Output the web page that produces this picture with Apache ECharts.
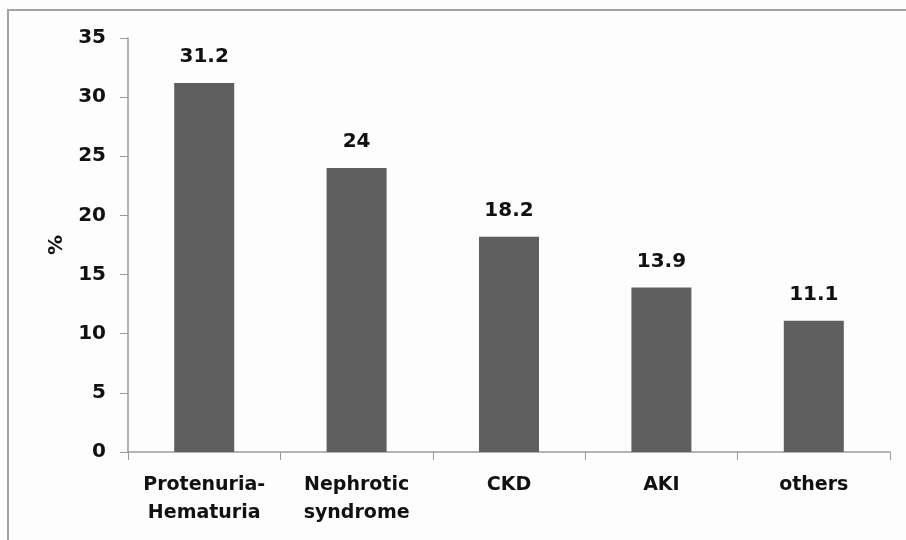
<!DOCTYPE html>
<html><head><meta charset="utf-8">
<script src="https://cdn.jsdelivr.net/npm/echarts@6/dist/echarts.min.js"></script>
<style>html,body{margin:0;padding:0;background:#fdfdfd;overflow:hidden}#c{width:906px;height:540px}
#frame{position:absolute;left:7px;top:9px;width:920px;height:560px;border-top:2px solid #a3a3a3;border-left:2px solid #a3a3a3;pointer-events:none}</style>
</head><body><div id="c"></div><div id="frame"></div>
<script>
var categories = ['Protenuria-\nHematuria', 'Nephrotic\nsyndrome', 'CKD', 'AKI', 'others'];
var values = [31.2, 24, 18.2, 13.9, 11.1];
var yTicks = [0, 5, 10, 15, 20, 25, 30, 35];

var chart = echarts.init(document.getElementById('c'));
var font = '"DejaVu Sans", "Open Sans", sans-serif';
chart.setOption({
  backgroundColor: '#fdfdfd',
  animation: false,
  grid: {left: 128, right: 16, top: 38, bottom: 88},
  xAxis: {
    type: 'category', data: categories,
    axisLine: {lineStyle: {color: '#9a9a9a', width: 1.5}},
    axisTick: {show: true, length: 8, alignWithLabel: false, lineStyle: {color: '#9a9a9a'}},
    axisLabel: {color: '#111', fontFamily: font, fontWeight: 'bold', fontSize: 19, margin: 19, lineHeight: 28, interval: 0}
  },
  yAxis: {
    type: 'value', min: yTicks[0], max: yTicks[yTicks.length - 1], interval: 5,
    name: '%', nameLocation: 'middle', nameGap: 60, nameRotate: 90,
    nameTextStyle: {color: '#111', fontFamily: font, fontWeight: 'bold', fontSize: 20},
    axisLine: {show: true, lineStyle: {color: '#9a9a9a', width: 1.5}},
    axisTick: {show: true, length: 8, lineStyle: {color: '#9a9a9a'}},
    splitLine: {show: false},
    axisLabel: {color: '#111', fontFamily: font, fontWeight: 'bold', fontSize: 20, margin: 22}
  },
  series: [{
    type: 'bar', data: values, barWidth: 60,
    itemStyle: {color: '#5f5f5f'},
    label: {show: true, position: 'top', distance: 16, color: '#111', fontFamily: font, fontWeight: 'bold', fontSize: 20}
  }]
});
</script></body></html>
